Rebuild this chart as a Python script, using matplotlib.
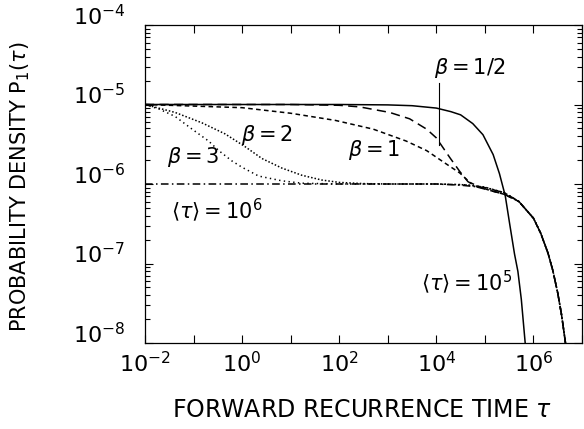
import numpy as np
import matplotlib.pyplot as plt

# values, as log10(tau) and log10(P1)
exp5_x = [-2, 2, 3, 3.5, 4.0, 4.3, 4.5, 4.75, 4.96, 5.17, 5.3, 5.42, 5.51, 5.61, 5.68, 5.75, 5.83]
exp5_y = [-5.0, -5.0, -5.005, -5.015, -5.045, -5.09, -5.13, -5.24, -5.38, -5.63, -5.87, -6.15, -6.5, -6.88, -7.1, -7.45, -8.0]

exp6_x = [-2, 4.0, 4.5, 5.0, 5.4, 5.7, 6.0, 6.15, 6.3, 6.4, 6.5, 6.58, 6.66]
exp6_y = [-6.0, -6.0, -6.015, -6.045, -6.11, -6.22, -6.43, -6.62, -6.87, -7.09, -7.37, -7.65, -8.0]

# common tail that all beta curves join
tail_x = [5.7, 6.0, 6.15, 6.3, 6.4, 6.5, 6.58, 6.66]
tail_y = [-6.22, -6.43, -6.62, -6.87, -7.09, -7.37, -7.65, -8.0]

b05_x = [-2, 1.0, 2.0, 2.42, 3.04, 3.45, 3.8, 4.0, 4.28, 4.48, 4.65, 4.85, 5.1, 5.4]
b05_y = [-5.0, -5.0, -5.01, -5.03, -5.1, -5.18, -5.31, -5.42, -5.67, -5.84, -5.97, -6.04, -6.08, -6.13]

b1_x = [-2, -1, 0, 1.0, 1.92, 2.7, 3.38, 3.8, 4.21, 4.48, 4.69, 4.9, 5.1, 5.4]
b1_y = [-5.0, -5.02, -5.04, -5.11, -5.2, -5.31, -5.46, -5.58, -5.75, -5.86, -5.98, -6.04, -6.08, -6.13]

b2_x = [-2, -1.38, -0.83, -0.35, 0.06, 0.41, 0.82, 1.23, 1.64, 2.0, 2.5, 3.0, 4.0, 4.6, 5.0, 5.4]
b2_y = [-5.0, -5.1, -5.23, -5.37, -5.53, -5.68, -5.8, -5.89, -5.95, -5.98, -5.995, -6.0, -6.0, -6.01, -6.04, -6.11]

b3_x = [-2, -1.7, -1.38, -1.03, -0.69, -0.48, -0.21, 0.0, 0.34, 0.82, 1.23, 2.0, 4.0, 4.6, 5.0, 5.4]
b3_y = [-5.0, -5.06, -5.15, -5.31, -5.46, -5.58, -5.71, -5.79, -5.9, -5.96, -5.99, -6.0, -6.0, -6.01, -6.04, -6.11]

x_decades = list(range(-2, 8))
x_labelled = [-2, 0, 2, 4, 6]
y_decades = [-8, -7, -6, -5, -4]


def pw(a):
    return np.power(10.0, np.asarray(a, dtype=float))


plt.rcParams['font.family'] = ['DejaVu Sans']
plt.rcParams['mathtext.fontset'] = 'dejavusans'

fig = plt.figure(figsize=(5.84, 4.29), dpi=100)
ax = fig.add_axes([145 / 584, 1 - 343 / 429, 437 / 584, 318 / 429])

k = dict(color='black', lw=1.1)
ax.plot(pw(exp5_x), pw(exp5_y), '-', **k)
ax.plot(pw(exp6_x), pw(exp6_y), dashes=(5, 2.2, 1, 2.2), **k)
ax.plot(pw(b05_x + tail_x), pw(b05_y + tail_y), dashes=(6, 3.5), **k)
ax.plot(pw(b1_x + tail_x), pw(b1_y + tail_y), dashes=(3, 2.2), **k)
ax.plot(pw(b2_x + tail_x), pw(b2_y + tail_y), dashes=(1, 1.3), **k)
ax.plot(pw(b3_x + tail_x), pw(b3_y + tail_y), dashes=(0.9, 2.2), **k)

ax.set_xscale('log')
ax.set_yscale('log')
ax.set_xlim(1e-2, 1e7)
ax.set_ylim(1e-8, 1e-4)

ax.set_xticks(pw(x_decades))
ax.set_xticklabels([r'$10^{%d}$' % d if d in x_labelled else '' for d in x_decades])
ax.xaxis.set_minor_locator(plt.NullLocator())
ax.set_yticks(pw(y_decades))
ylabs = ax.set_yticklabels([r'$10^{%d}$' % d for d in y_decades])
for t in ylabs:
    t.set_verticalalignment('baseline')
ax.yaxis.set_minor_locator(plt.LogLocator(base=10, subs=np.arange(2, 10)))
ax.yaxis.set_minor_formatter(plt.NullFormatter())

ax.tick_params(which='both', direction='in', top=True, right=True, width=0.8)
ax.tick_params(which='major', length=6, labelsize=16)
ax.tick_params(which='minor', length=3.5)
ax.tick_params(axis='x', pad=6)
ax.tick_params(axis='y', pad=14)
for s in ax.spines.values():
    s.set_linewidth(0.9)

ts = 15
ax.text(pw(4.69), pw(-4.54), r'$\beta=1/2$', fontsize=ts, ha='center', va='center')
ax.plot(pw([4.05, 4.05]), pw([-4.73, -5.51]), color='black', lw=0.8)
ax.text(pw(2.73), pw(-5.57), r'$\beta=1$', fontsize=ts, ha='center', va='center')
ax.text(pw(0.51), pw(-5.38), r'$\beta=2$', fontsize=ts, ha='center', va='center')
ax.text(pw(-1.01), pw(-5.66), r'$\beta=3$', fontsize=ts, ha='center', va='center')
ax.text(pw(-0.52), pw(-6.33), r'$\langle\tau\rangle=10^6$', fontsize=ts, ha='center', va='center')
ax.text(pw(4.63), pw(-7.23), r'$\langle\tau\rangle=10^5$', fontsize=ts, ha='center', va='center')

fig.text(20 / 584, 1 - 187 / 429, r'PROBABILITY DENSITY P$_1$($\tau$)', rotation=90,
         fontsize=15, ha='center', va='center')
fig.text(362 / 584, 1 - 410 / 429, r'FORWARD RECURRENCE TIME $\tau$',
         fontsize=17, ha='center', va='center')

fig.savefig('out.png', dpi=100)
